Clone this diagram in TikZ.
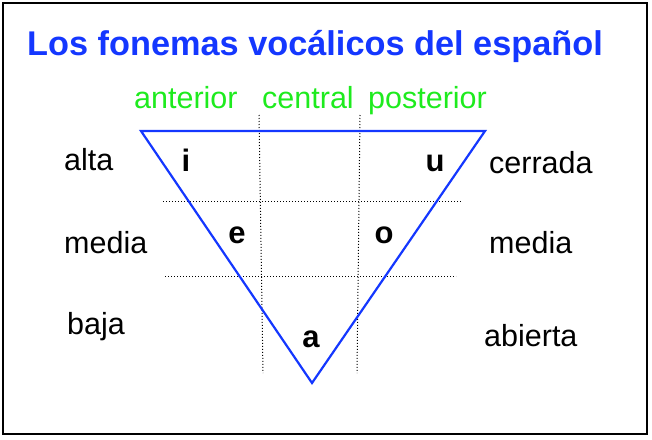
\documentclass[tikz,border=0pt]{standalone}
\usepackage{fontspec}
\setmainfont{Liberation Sans}
\definecolor{titleblue}{RGB}{20,55,255}
\definecolor{labelgreen}{RGB}{30,235,30}
\begin{document}
\begin{tikzpicture}[x=1pt,y=-1pt,
  lbl/.style = {anchor=base west, inner sep=0pt, font=\fontsize{30.5}{31}\selectfont},
  colname/.style = {lbl, text=labelgreen},
  vow/.style = {anchor=base, inner sep=0pt, font=\fontsize{31}{31}\selectfont\bfseries},
  divline/.style = {dash pattern=on 1pt off 2pt, line width=1pt}]
  \useasboundingbox (0,0) rectangle (652,439);
  \draw[line width=1.8pt] (3,3) rectangle (647,434);
  \node[anchor=base west, inner sep=0pt, text=titleblue,
        font=\fontsize{34.3}{35}\selectfont\bfseries] (title) at (27,55)
        {Los fonemas vocálicos del español};
  % columnas
  \node[colname] (ant) at (134,108) {anterior};
  \node[colname] (cen) at (262,108) {central};
  \node[colname] (post) at (368,108) {posterior};
  % divisiones
  \draw[divline] (163,201) -- (462,201);
  \draw[divline] (165,276) -- (456,276);
  \draw[divline] (259,115) -- (263,373);
  \draw[divline] (360,115) -- (357,373);
  % triangulo
  \draw[titleblue, line width=2.2pt, line join=miter] (141,131) -- (485,131) -- (312,383) -- cycle;
  % alturas
  \node[lbl] (alta) at (64,170) {alta};
  \node[lbl] (medl) at (64,253) {media};
  \node[lbl] (baja) at (67,334) {baja};
  \node[lbl] (cerr) at (489,173) {cerrada};
  \node[lbl] (medr) at (489,253) {media};
  \node[lbl] (abie) at (484,346) {abierta};
  % vocales
  \node[vow] (i) at (186,171) {i};
  \node[vow] (u) at (435,171) {u};
  \node[vow] (e) at (237,243) {e};
  \node[vow] (o) at (384,243) {o};
  \node[vow] (a) at (311,347) {a};
\end{tikzpicture}
\end{document}
